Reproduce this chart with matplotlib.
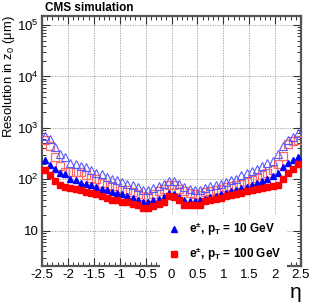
import numpy as np
import matplotlib
matplotlib.use("Agg")
import matplotlib.pyplot as plt
from matplotlib.ticker import FixedLocator, FuncFormatter, LogLocator, MultipleLocator

plt.rcParams['font.family'] = ['Liberation Sans', 'DejaVu Sans']
plt.rcParams['mathtext.fontset'] = 'custom'
plt.rcParams['mathtext.rm'] = 'Liberation Sans'
plt.rcParams['mathtext.it'] = 'Liberation Sans:italic'
plt.rcParams['mathtext.bf'] = 'Liberation Sans:bold'
plt.rcParams['mathtext.default'] = 'regular'

# bin centres in eta
eta = np.linspace(-2.45, 2.45, 50)

# filled red squares: e, pT = 100 GeV
res_100 = [150, 123, 91, 76, 71, 68, 64, 61, 57, 54, 51, 47, 44, 40, 39, 37, 36, 33, 31, 28, 28, 30, 33, 37, 47,
           45, 39, 32, 31, 31, 32, 38, 40, 42, 44, 47, 50, 52, 55, 58, 61, 64, 68, 71, 74, 77, 100, 130, 160, 195]
# filled blue triangles: e, pT = 10 GeV
res_10 = [234, 193, 161, 133, 129, 100, 95, 86, 82, 76, 71, 66, 61, 57, 54, 51, 47, 44, 40, 37, 37, 39, 42, 46, 55,
          52, 45, 40, 38, 38, 39, 42, 45, 48, 51, 55, 59, 63, 67, 72, 78, 85, 93, 102, 115, 130, 170, 210, 235, 270]
# open blue triangles (10 GeV, other configuration)
res_10_open = [700, 600, 420, 315, 270, 210, 200, 180, 170, 150, 133, 128, 112, 100, 95, 88, 82, 78, 70, 63, 62, 68, 74, 82, 92,
               92, 80, 70, 65, 62, 62, 68, 74, 78, 82, 88, 95, 100, 120, 130, 145, 160, 180, 205, 230, 310, 440, 580, 660, 790]
# open red squares (100 GeV, other configuration)
res_100_open = [570, 450, 275, 185, 140, 138, 138, 140, 120, 105, 100, 85, 78, 74, 68, 63, 61, 57, 53, 47, 46, 52, 58, 66, 78,
                78, 66, 58, 55, 52, 50, 56, 60, 63, 66, 70, 74, 78, 82, 88, 97, 108, 120, 135, 155, 200, 290, 480, 560, 575]

xticks = [-2.5, -2, -1.5, -1, -0.5, 0, 0.5, 1, 1.5, 2, 2.5]
xticklabels = ['-2.5', '-2', '-1.5', '-1', '-0.5', '0', '0.5', '1', '1.5', '2', '2.5']
yticks = [10, 100, 1000, 10000, 100000]

W, H = 324, 308
fig = plt.figure(figsize=(W / 100, H / 100), dpi=100)
ax = fig.add_axes([42 / W, 1 - 265.6 / H, (301 - 42) / W, (265.6 - 16) / H])

ax.set_yscale('log')
ax.set_xlim(-2.5, 2.5)
ax.set_ylim(2.1, 1.5e5)

ax.plot(eta, res_100_open, ls='none', marker='s', ms=5.4, mfc='none', mec='#ff6666', mew=0.9, zorder=3)
ax.plot(eta, res_10_open, ls='none', marker='^', ms=5.6, mfc='none', mec='#5a5aff', mew=0.8, zorder=4)
h10, = ax.plot(eta, res_10, ls='none', marker='^', ms=4.8, color='#0000ff', zorder=5,
               label=r'$\mathbf{e^{\pm}}$, $\mathbf{p_{T}}$ = 10 GeV')
h100, = ax.plot(eta, res_100, ls='none', marker='s', ms=4.8, color='#ff0000', zorder=6,
                label=r'$\mathbf{e^{\pm}}$, $\mathbf{p_{T}}$ = 100 GeV')

ax.xaxis.set_major_locator(FixedLocator(xticks))
ax.set_xticklabels(xticklabels)
ax.xaxis.set_minor_locator(MultipleLocator(0.1))
ax.yaxis.set_major_locator(FixedLocator(yticks))
ax.yaxis.set_major_formatter(FuncFormatter(lambda v, p: '10' if abs(v - 10) < 1e-6 else r'$10^{%d}$' % round(np.log10(v))))
ax.yaxis.set_minor_locator(LogLocator(base=10, subs=np.arange(2, 10), numticks=20))
ax.yaxis.set_minor_formatter(FuncFormatter(lambda v, p: ''))

ax.tick_params(which='both', direction='in', top=True, right=True, colors='#333333', labelcolor='black')
ax.tick_params(which='major', length=6, width=0.8, labelsize=9.5, pad=2.5)
ax.tick_params(which='minor', length=3, width=0.7)
ax.grid(True, which='major', ls=(0, (1.5, 1.5)), color='#999999', lw=0.6)
ax.set_axisbelow(True)
for s in ax.spines.values():
    s.set_color('#555555')
    s.set_linewidth(1.6)

leg = ax.legend(handles=[h10, h100], loc='upper left', bbox_to_anchor=(160 / W, 1 - 215 / H),
                bbox_transform=fig.transFigure, frameon=True, fancybox=False, framealpha=1,
                facecolor='white', edgecolor='none', prop={'size': 8.5, 'weight': 'bold'},
                handlelength=1.4, handletextpad=0.6, borderpad=0.45, labelspacing=0.62, borderaxespad=0)
leg.set_zorder(10)

fig.text(45 / W, 1 - 8 / H, 'CMS simulation', fontsize=8.5, fontweight='bold', ha='left', va='center')
fig.text(9 / W, 1 - 15 / H, r'Resolution in z$_0$ (μm)', fontsize=9.4, rotation=90, ha='center', va='top')
fig.text(296 / W, 1 - 292 / H, 'η', fontsize=15, ha='center', va='center')

fig.savefig('out.png', dpi=100)
